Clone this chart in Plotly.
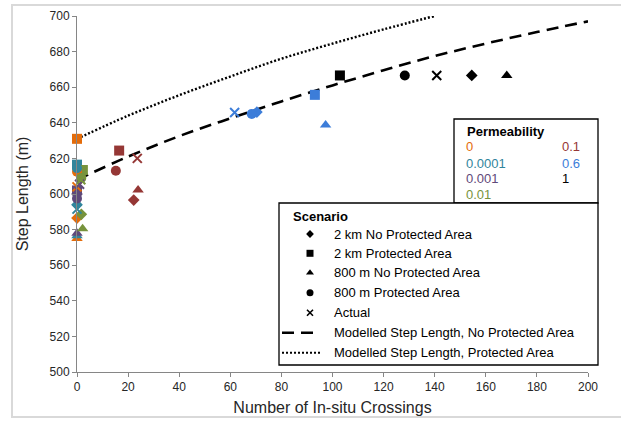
import plotly.graph_objects as go

# ---------------- data ----------------
perm_labels = ["0", "0.0001", "0.001", "0.01", "0.1", "0.6", "1"]

# 2 km No Protected Area (diamond)
nopa2km_x = [0, 0, 0, 1.7, 22.2, 70.4, 154.5]
nopa2km_y = [586.5, 594.0, 600.0, 588.6, 596.6, 646.0, 666.6]

# 2 km Protected Area (square)
pa2km_x = [0, 0, 0, 2.3, 16.5, 93.1, 102.9]
pa2km_y = [631.0, 616.5, 602.0, 613.5, 624.4, 655.7, 666.6]

# 800 m No Protected Area (triangle)
nopa800_x = [0, 0, 0, 2.2, 23.9, 97.3, 168.2]
nopa800_y = [575.0, 576.5, 578.0, 580.5, 602.3, 638.8, 666.6]

# 800 m Protected Area (circle)
pa800_x = [0, 0, 0, 1.7, 15.2, 68.4, 128.3]
pa800_y = [612.5, 614.5, 597.5, 609.0, 613.1, 645.0, 666.6]

# Actual (x)
actual_x = [0, 0, 1.0, 1.5, 23.6, 61.7, 140.8]
actual_y = [604.0, 591.5, 605.5, 608.0, 620.0, 645.8, 666.6]

# Modelled step length curves
model_nopa_x = [0, 20, 40, 60, 80, 100, 120, 140, 160, 180, 200]
model_nopa_y = [608, 621, 632.5, 642.5, 652, 661, 669.5, 677.5, 684.5, 691, 697]
model_pa_x = [0, 20, 40, 60, 80, 100, 120, 140]
model_pa_y = [631, 644, 655.5, 666, 676, 684.5, 692.5, 700]

x_ticks = [0, 20, 40, 60, 80, 100, 120, 140, 160, 180, 200]
y_ticks = [500, 520, 540, 560, 580, 600, 620, 640, 660, 680, 700]

scenario_names = ["2 km No Protected Area", "2 km Protected Area",
                  "800 m No Protected Area", "800 m Protected Area", "Actual",
                  "Modelled Step Length, No Protected Area",
                  "Modelled Step Length, Protected Area"]

# ---------------- style ----------------
perm_colors = ["#E46C0A", "#31859C", "#5F497A", "#77933C", "#953735", "#3C7DD9", "#000000"]
FONT = "Liberation Sans, Arial, sans-serif"
W, H = 621, 421
L, R, T, B = 77, 33, 16, 49
PW, PH = W - L - R, H - T - B


def px(xp):
    return (xp - L) / PW


def py(yp):
    return (H - B - yp) / PH


fig = go.Figure()

# model lines
fig.add_trace(go.Scatter(x=model_nopa_x, y=model_nopa_y, mode="lines", line_shape="spline",
                         line=dict(color="black", width=2.6, dash="12px,7px"), showlegend=False,
                         hoverinfo="skip"))
fig.add_trace(go.Scatter(x=model_pa_x, y=model_pa_y, mode="lines", line_shape="spline",
                         line=dict(color="black", width=2.4, dash="2px,2px"), showlegend=False,
                         hoverinfo="skip"))

series = [
    (nopa2km_x, nopa2km_y, "diamond", 9),
    (pa2km_x, pa2km_y, "square", 10),
    (nopa800_x, nopa800_y, "triangle-up", 10),
    (pa800_x, pa800_y, "circle", 10),
]
for (xs, ys, sym, size), name in zip(series, scenario_names):
    fig.add_trace(go.Scatter(x=xs, y=ys, mode="markers", name=name, cliponaxis=False,
                             marker=dict(symbol=sym, size=size, color=perm_colors, line=dict(width=0)),
                             text=perm_labels, showlegend=False))
fig.add_trace(go.Scatter(x=actual_x, y=actual_y, mode="markers", name=scenario_names[4], cliponaxis=False,
                         marker=dict(symbol="x-thin", size=9, color=perm_colors,
                                     line=dict(width=2, color=perm_colors)),
                         text=perm_labels, showlegend=False))

# ---- legend samples on a pixel-space overlay axis ----
rows_y = [234, 253.3, 272.7, 292.7, 312.7, 332.7, 352.7]
leg_syms = [("diamond", 6), ("square", 7), ("triangle-up", 7), ("circle", 7), ("x-thin", 6)]
for (sym, size), ry in zip(leg_syms, rows_y[:5]):
    fig.add_trace(go.Scatter(x=[310], y=[ry], xaxis="x2", yaxis="y2", mode="markers",
                             cliponaxis=False, showlegend=False, hoverinfo="skip",
                             marker=dict(symbol=sym, size=size, color="black",
                                         line=dict(width=1.6 if sym == "x-thin" else 0, color="black"))))
fig.add_trace(go.Scatter(x=[282, 320], y=[rows_y[5]] * 2, xaxis="x2", yaxis="y2", mode="lines",
                         cliponaxis=False, showlegend=False, hoverinfo="skip",
                         line=dict(color="black", width=2.6, dash="12px,7px")))
fig.add_trace(go.Scatter(x=[282, 320], y=[rows_y[6]] * 2, xaxis="x2", yaxis="y2", mode="lines",
                         cliponaxis=False, showlegend=False, hoverinfo="skip",
                         line=dict(color="black", width=2, dash="2px,2px")))

shapes = [
    dict(type="rect", xref="paper", yref="paper", x0=px(12), x1=px(630), y0=py(5), y1=py(417),
         line=dict(color="#D9D9D9", width=2), fillcolor="rgba(0,0,0,0)", layer="below"),
    dict(type="rect", xref="paper", yref="paper", x0=px(454), x1=px(598), y0=py(119), y1=py(203),
         line=dict(color="black", width=1.3), fillcolor="white", layer="below"),
    dict(type="rect", xref="paper", yref="paper", x0=px(279), x1=px(598), y0=py(203), y1=py(365),
         line=dict(color="black", width=1.3), fillcolor="white", layer="below"),
]

ann = []
ann.append(dict(x=px(465), y=py(131.7), text="<b>Permeability</b>"))
perm_pos = [(463.5, 146.7), (463.5, 163.3), (463.5, 178.8), (463.5, 194.3),
            (559.5, 146.7), (559.5, 163.3), (559.5, 178.8)]
for lab, col, (xp, yp) in zip(perm_labels, perm_colors, perm_pos):
    ann.append(dict(x=px(xp), y=py(yp), text=lab, font=dict(color=col, size=13, family=FONT)))
ann.append(dict(x=px(290.7), y=py(216), text="<b>Scenario</b>"))
for name, ry in zip(scenario_names, rows_y):
    ann.append(dict(x=px(331.7), y=py(ry), text=name))
for a in ann:
    a.update(xref="paper", yref="paper", xanchor="left", yanchor="middle", showarrow=False)
    a.setdefault("font", dict(color="black", size=13, family=FONT))

axis_common = dict(showgrid=False, zeroline=False, showline=True, linecolor="#868686", linewidth=1,
                   ticks="outside", ticklen=4, tickcolor="#868686", tickwidth=1,
                   tickfont=dict(family=FONT, size=12, color="#262626"))

fig.update_layout(
    width=W, height=H, margin=dict(l=L, r=R, t=T, b=B, autoexpand=False),
    paper_bgcolor="white", plot_bgcolor="white",
    font=dict(family=FONT, color="black"),
    xaxis=dict(range=[0, 200], tickvals=x_ticks, **axis_common,
               title=dict(text="Number of In-situ Crossings", font=dict(size=16, family=FONT, color="#262626"),
                          standoff=8)),
    yaxis=dict(range=[500, 700], tickvals=y_ticks, **axis_common,
               title=dict(text="Step Length (m)", font=dict(size=16, family=FONT, color="#262626"),
                          standoff=16)),
    xaxis2=dict(overlaying="x", range=[L, L + PW], visible=False, anchor="y2"),
    yaxis2=dict(overlaying="y", range=[H - B, T], visible=False, anchor="x2"),
    shapes=shapes, annotations=ann, showlegend=False,
)

fig.write_html("out.html", config={"displayModeBar": False},
               post_script="document.body.style.margin='0px';")
